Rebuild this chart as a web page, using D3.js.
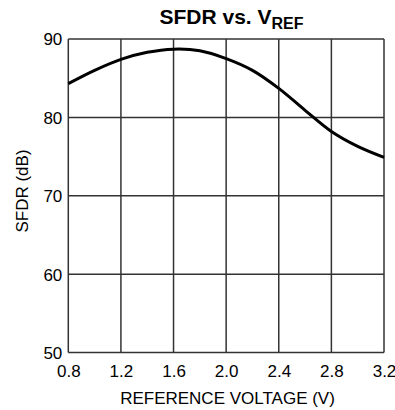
<!DOCTYPE html>
<html>
<head>
<meta charset="utf-8">
<script src="https://cdn.jsdelivr.net/npm/d3@7"></script>
<style>
body{margin:0;background:#fff;}
svg{display:block;font-family:"Liberation Sans",Arial,sans-serif;}
</style>
</head>
<body>
<svg id="chart" width="395" height="410"></svg>
<script>
const voltage = [0.8,1.0,1.2,1.4,1.6,1.8,2.0,2.2,2.4,2.6,2.8,3.0,3.2];
const sfdr = [84.3,86.0,87.4,88.3,88.7,88.5,87.5,86.0,83.7,80.9,78.2,76.3,74.9];
const xTicks = [0.8,1.2,1.6,2.0,2.4,2.8,3.2];
const yTicks = [50,60,70,80,90];

const svg = d3.select("#chart");
const L = 68.3, R = 384, T = 39, B = 352.5;
const x = d3.scaleLinear().domain([0.8,3.2]).range([L,R]);
const y = d3.scaleLinear().domain([50,90]).range([B,T]);

// grid
const g = svg.append("g");
g.selectAll(".vx").data(xTicks).join("line")
  .attr("x1",d=>x(d)).attr("x2",d=>x(d)).attr("y1",T).attr("y2",B)
  .attr("stroke","#333").attr("stroke-width",1.5);
g.selectAll(".hy").data(yTicks).join("line")
  .attr("y1",d=>y(d)).attr("y2",d=>y(d)).attr("x1",L).attr("x2",R)
  .attr("stroke","#333").attr("stroke-width",1.5);

// axes labels via d3 axes (no lines)
const xAxis = svg.append("g").attr("transform",`translate(0,${B})`)
  .call(d3.axisBottom(x).tickValues(xTicks).tickFormat(d3.format(".1f")).tickSize(0).tickPadding(12));
const yAxis = svg.append("g").attr("transform",`translate(${L},0)`)
  .call(d3.axisLeft(y).tickValues(yTicks).tickFormat(d3.format("d")).tickSize(0).tickPadding(6));
[xAxis,yAxis].forEach(a=>{
  a.select(".domain").remove();
  a.selectAll("text").attr("font-size",17).attr("fill","#000").attr("font-family","Liberation Sans, Arial, sans-serif");
});
yAxis.selectAll(".tick text").attr("dy","0.35em");

// curve
const line = d3.line().x((d,i)=>x(voltage[i])).y(d=>y(d)).curve(d3.curveCatmullRom.alpha(0.5));
svg.append("path").datum(sfdr).attr("d",line).attr("fill","none")
  .attr("stroke","#000").attr("stroke-width",3);

// title
const title = svg.append("text").attr("x",231.5).attr("y",24).attr("text-anchor","middle")
  .attr("font-weight","bold").attr("font-size",21).attr("fill","#000");
title.append("tspan").text("SFDR vs. V");
title.append("tspan").attr("font-size",16).attr("dy",5).text("REF");

// axis titles
svg.append("text").attr("x",227.5).attr("y",404).attr("text-anchor","middle")
  .attr("font-size",17).attr("fill","#000").text("REFERENCE VOLTAGE (V)");
svg.append("text").attr("transform",`translate(28,191) rotate(-90)`)
  .attr("text-anchor","middle").attr("font-size",17).attr("fill","#000").text("SFDR (dB)");
</script>
</body>
</html>
